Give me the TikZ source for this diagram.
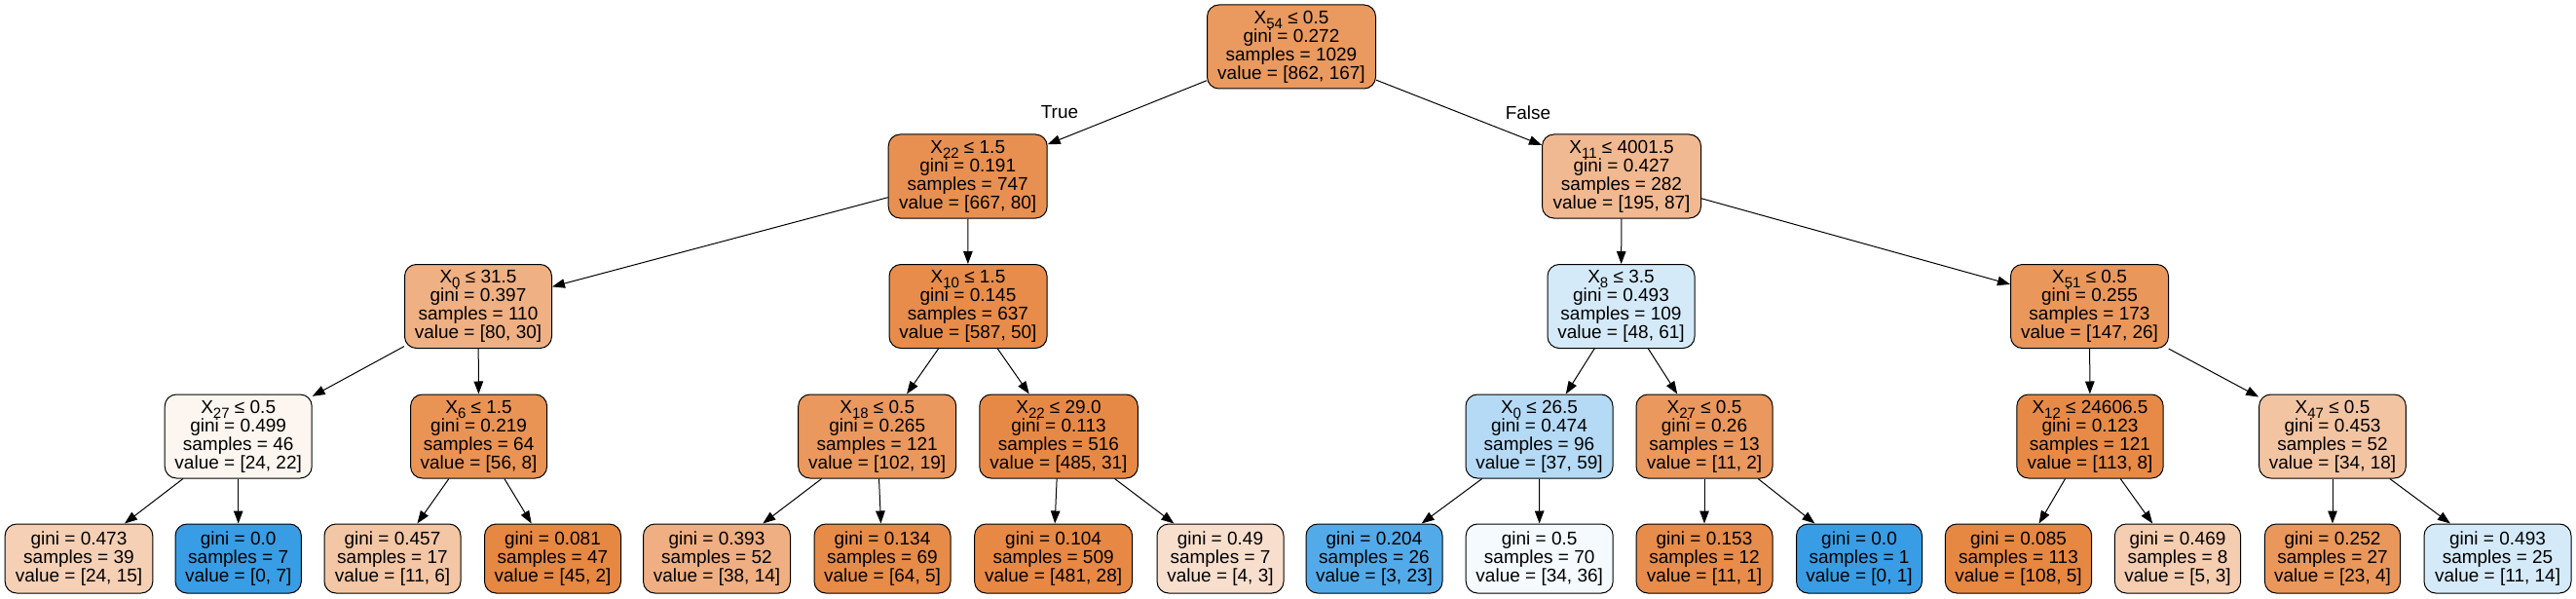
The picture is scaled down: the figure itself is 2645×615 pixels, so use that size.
\documentclass[tikz,border=0pt]{standalone}
\usepackage{fontspec}
\setmainfont{Liberation Sans}
\usetikzlibrary{arrows.meta}
\definecolor{cO}{RGB}{229,129,57}
\definecolor{cB}{RGB}{57,157,229}
\newcommand{\xs}[1]{X\raisebox{-5pt}{\fontsize{15}{15}\selectfont #1}}
\begin{document}
\begin{tikzpicture}[x=1pt,y=-1pt,
  tn/.style={draw=black, line width=1pt, rounded corners=12pt, align=center, inner sep=0pt,
    font=\fontsize{19}{19}\selectfont, minimum height=86pt},
  lf/.style={tn, minimum height=71pt},
  conn/.style={-{Triangle[length=13pt,width=9.5pt]}, line width=1pt, draw=black},
  elab/.style={font=\fontsize{19}{19}\selectfont, inner sep=0pt}]
\fill[white] (0,0) rectangle (2645,615);
\useasboundingbox (0,0) rectangle (2645,615);
% level 0
\node[tn, minimum width=173pt, fill=cO!80.6!white] (n0) at (1326,48) {\xs{54} ≤ 0.5\\gini = 0.272\\samples = 1029\\value = [862, 167]};
% level 1
\node[tn, minimum width=163pt, fill=cO!88!white] (n1) at (993.7,181) {\xs{22} ≤ 1.5\\gini = 0.191\\samples = 747\\value = [667, 80]};
\node[tn, minimum width=163pt, fill=cO!55.4!white] (n2) at (1665,181) {\xs{11} ≤ 4001.5\\gini = 0.427\\samples = 282\\value = [195, 87]};
% level 2
\node[tn, minimum width=151pt, fill=cO!62.5!white] (n3) at (491,314.5) {\xs{0} ≤ 31.5\\gini = 0.397\\samples = 110\\value = [80, 30]};
\node[tn, minimum width=162pt, fill=cO!91.5!white] (n4) at (994,314.5) {\xs{10} ≤ 1.5\\gini = 0.145\\samples = 637\\value = [587, 50]};
\node[tn, minimum width=151pt, fill=cB!21.3!white] (n5) at (1664.5,314.5) {\xs{8} ≤ 3.5\\gini = 0.493\\samples = 109\\value = [48, 61]};
\node[tn, minimum width=162pt, fill=cO!82.3!white] (n6) at (2145.5,314.5) {\xs{51} ≤ 0.5\\gini = 0.255\\samples = 173\\value = [147, 26]};
% level 3
\node[tn, minimum width=151pt, fill=cO!8.3!white] (n7) at (244.7,448) {\xs{27} ≤ 0.5\\gini = 0.499\\samples = 46\\value = [24, 22]};
\node[tn, minimum width=140pt, fill=cO!85.7!white] (n8) at (491.6,448) {\xs{6} ≤ 1.5\\gini = 0.219\\samples = 64\\value = [56, 8]};
\node[tn, minimum width=162pt, fill=cO!81.4!white] (n9) at (900.7,448) {\xs{18} ≤ 0.5\\gini = 0.265\\samples = 121\\value = [102, 19]};
\node[tn, minimum width=162.5pt, fill=cO!93.6!white] (n10) at (1087,448) {\xs{22} ≤ 29.0\\gini = 0.113\\samples = 516\\value = [485, 31]};
\node[tn, minimum width=151pt, fill=cB!37.3!white] (n11) at (1580.5,448) {\xs{0} ≤ 26.5\\gini = 0.474\\samples = 96\\value = [37, 59]};
\node[tn, minimum width=140pt, fill=cO!81.8!white] (n12) at (1750,448) {\xs{27} ≤ 0.5\\gini = 0.26\\samples = 13\\value = [11, 2]};
\node[tn, minimum width=150.3pt, fill=cO!92.9!white] (n13) at (2146,448) {\xs{12} ≤ 24606.5\\gini = 0.123\\samples = 121\\value = [113, 8]};
\node[tn, minimum width=150.7pt, fill=cO!47.1!white] (n14) at (2395,448) {\xs{47} ≤ 0.5\\gini = 0.453\\samples = 52\\value = [34, 18]};
% level 4 (leaves)
\node[lf, minimum width=151.7pt, fill=cO!37.5!white] (l1) at (81,573.5) {gini = 0.473\\samples = 39\\value = [24, 15]};
\node[lf, minimum width=129.3pt, fill=cB] (l2) at (244.7,573.5) {gini = 0.0\\samples = 7\\value = [0, 7]};
\node[lf, minimum width=140pt, fill=cO!45.5!white] (l3) at (403,573.5) {gini = 0.457\\samples = 17\\value = [11, 6]};
\node[lf, minimum width=140pt, fill=cO!95.6!white] (l4) at (567.5,573.5) {gini = 0.081\\samples = 47\\value = [45, 2]};
\node[lf, minimum width=151pt, fill=cO!63.2!white] (l5) at (736,573.5) {gini = 0.393\\samples = 52\\value = [38, 14]};
\node[lf, minimum width=140pt, fill=cO!92.2!white] (l6) at (906,573.5) {gini = 0.134\\samples = 69\\value = [64, 5]};
\node[lf, minimum width=162pt, fill=cO!94.2!white] (l7) at (1081.6,573.5) {gini = 0.104\\samples = 509\\value = [481, 28]};
\node[lf, minimum width=130pt, fill=cO!25!white] (l8) at (1253,573.5) {gini = 0.49\\samples = 7\\value = [4, 3]};
\node[lf, minimum width=140pt, fill=cB!87!white] (l9) at (1411,573.5) {gini = 0.204\\samples = 26\\value = [3, 23]};
\node[lf, minimum width=151pt, fill=cB!5.6!white] (l10) at (1580.7,573.5) {gini = 0.5\\samples = 70\\value = [34, 36]};
\node[lf, minimum width=140pt, fill=cO!90.9!white] (l11) at (1750,573.5) {gini = 0.153\\samples = 12\\value = [11, 1]};
\node[lf, minimum width=129pt, fill=cB] (l12) at (1909,573.5) {gini = 0.0\\samples = 1\\value = [0, 1]};
\node[lf, minimum width=150.4pt, fill=cO!95.4!white] (l13) at (2072.5,573.5) {gini = 0.085\\samples = 113\\value = [108, 5]};
\node[lf, minimum width=129.3pt, fill=cO!40!white] (l14) at (2236,573.5) {gini = 0.469\\samples = 8\\value = [5, 3]};
\node[lf, minimum width=139.3pt, fill=cO!82.6!white] (l15) at (2395,573.5) {gini = 0.252\\samples = 27\\value = [23, 4]};
\node[lf, minimum width=151pt, fill=cB!21.4!white] (l16) at (2564.5,573.5) {gini = 0.493\\samples = 25\\value = [11, 14]};
% edge labels
\node[elab] (tl) at (1088,115) {True};
\node[elab] (fl) at (1569,116) {False};
% connectors
\draw[conn] (n0) -- (n1);
\draw[conn] (n0) -- (n2);
\draw[conn] (n1) -- (n3);
\draw[conn] (n1) -- (n4);
\draw[conn] (n2) -- (n5);
\draw[conn] (n2) -- (n6);
\draw[conn] (n3) -- (n7);
\draw[conn] (n3) -- (n8);
\draw[conn] (n4) -- (n9);
\draw[conn] (n4) -- (n10);
\draw[conn] (n5) -- (n11);
\draw[conn] (n5) -- (n12);
\draw[conn] (n6) -- (n13);
\draw[conn] (n6) -- (n14);
\draw[conn] (n7) -- (l1);
\draw[conn] (n7) -- (l2);
\draw[conn] (n8) -- (l3);
\draw[conn] (n8) -- (l4);
\draw[conn] (n9) -- (l5);
\draw[conn] (n9) -- (l6);
\draw[conn] (n10) -- (l7);
\draw[conn] (n10) -- (l8);
\draw[conn] (n11) -- (l9);
\draw[conn] (n11) -- (l10);
\draw[conn] (n12) -- (l11);
\draw[conn] (n12) -- (l12);
\draw[conn] (n13) -- (l13);
\draw[conn] (n13) -- (l14);
\draw[conn] (n14) -- (l15);
\draw[conn] (n14) -- (l16);
\end{tikzpicture}
\end{document}
